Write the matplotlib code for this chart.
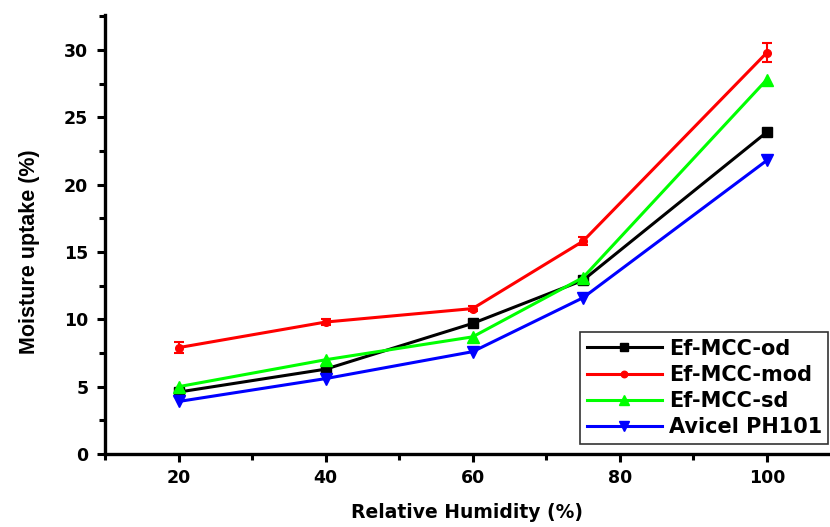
import numpy as np
import matplotlib.pyplot as plt
from matplotlib.ticker import MultipleLocator

plt.rcParams.update({
    "font.family": ["DejaVu Sans"],
    "font.weight": "bold",
    "axes.labelweight": "bold",
})

# relative humidity levels and moisture uptake for each sample
rh = [20, 40, 60, 75, 100]
ef_mcc_od = [4.6, 6.3, 9.7, 12.9, 23.9]
ef_mcc_mod = [7.9, 9.8, 10.8, 15.8, 29.8]
ef_mcc_sd = [5.0, 7.0, 8.7, 13.1, 27.8]
avicel = [3.9, 5.6, 7.6, 11.6, 21.8]
mod_err = [0.4, 0.2, 0.2, 0.3, 0.7]

fig = plt.figure(figsize=(8.3, 5.27), dpi=100)
ax = fig.add_axes([0.1265, 0.1385, 0.8735, 0.833])

lw = 2.2
h_od, = ax.plot(rh, ef_mcc_od, color="black", marker="s", ms=7, lw=lw,
                label="Ef-MCC-od")
ax.errorbar(rh, ef_mcc_mod, yerr=mod_err, fmt="none", ecolor="red",
            elinewidth=1.5, capsize=3.5, capthick=1.5)
h_mod, = ax.plot(rh, ef_mcc_mod, color="red", marker="o", ms=5.5, lw=lw,
                 label="Ef-MCC-mod")
h_sd, = ax.plot(rh, ef_mcc_sd, color="#00ff00", marker="^", ms=9, lw=lw,
                label="Ef-MCC-sd")
h_av, = ax.plot(rh, avicel, color="blue", marker="v", ms=9, lw=lw,
                label="Avicel PH101")

ax.set_xlim(10, 108.6)
ax.set_ylim(0, 32.6)
ax.xaxis.set_major_locator(MultipleLocator(20))
ax.xaxis.set_minor_locator(MultipleLocator(10))
ax.yaxis.set_major_locator(MultipleLocator(5))
ax.yaxis.set_minor_locator(MultipleLocator(2.5))

for side in ["top", "right"]:
    ax.spines[side].set_visible(False)
for side in ["left", "bottom"]:
    ax.spines[side].set_linewidth(2.4)
ax.tick_params(which="major", direction="out", length=6, width=2.2,
               labelsize=12.5, pad=6)
ax.tick_params(which="minor", direction="out", length=4, width=2.2)
ax.tick_params(axis="x", pad=5)
for lbl in ax.get_xticklabels() + ax.get_yticklabels():
    lbl.set_fontweight("bold")

ax.set_xlabel("Relative Humidity (%)", fontsize=13.5, labelpad=11)
ax.set_ylabel("Moisture uptake (%)", fontsize=15.5, family="Liberation Sans")
ax.yaxis.set_label_coords(-0.09, 0.46)

leg = ax.legend(handles=[h_od, h_mod, h_sd, h_av],
                loc="lower right", bbox_to_anchor=(0.998, 0.158),
                bbox_transform=fig.transFigure, fontsize=15,
                frameon=True, fancybox=False, edgecolor="black",
                borderpad=0.3, labelspacing=0.3, handlelength=3.6,
                handletextpad=0.35, borderaxespad=0, markerscale=0.85)
leg.get_frame().set_linewidth(1.2)

fig.savefig("out.png", dpi=100)
